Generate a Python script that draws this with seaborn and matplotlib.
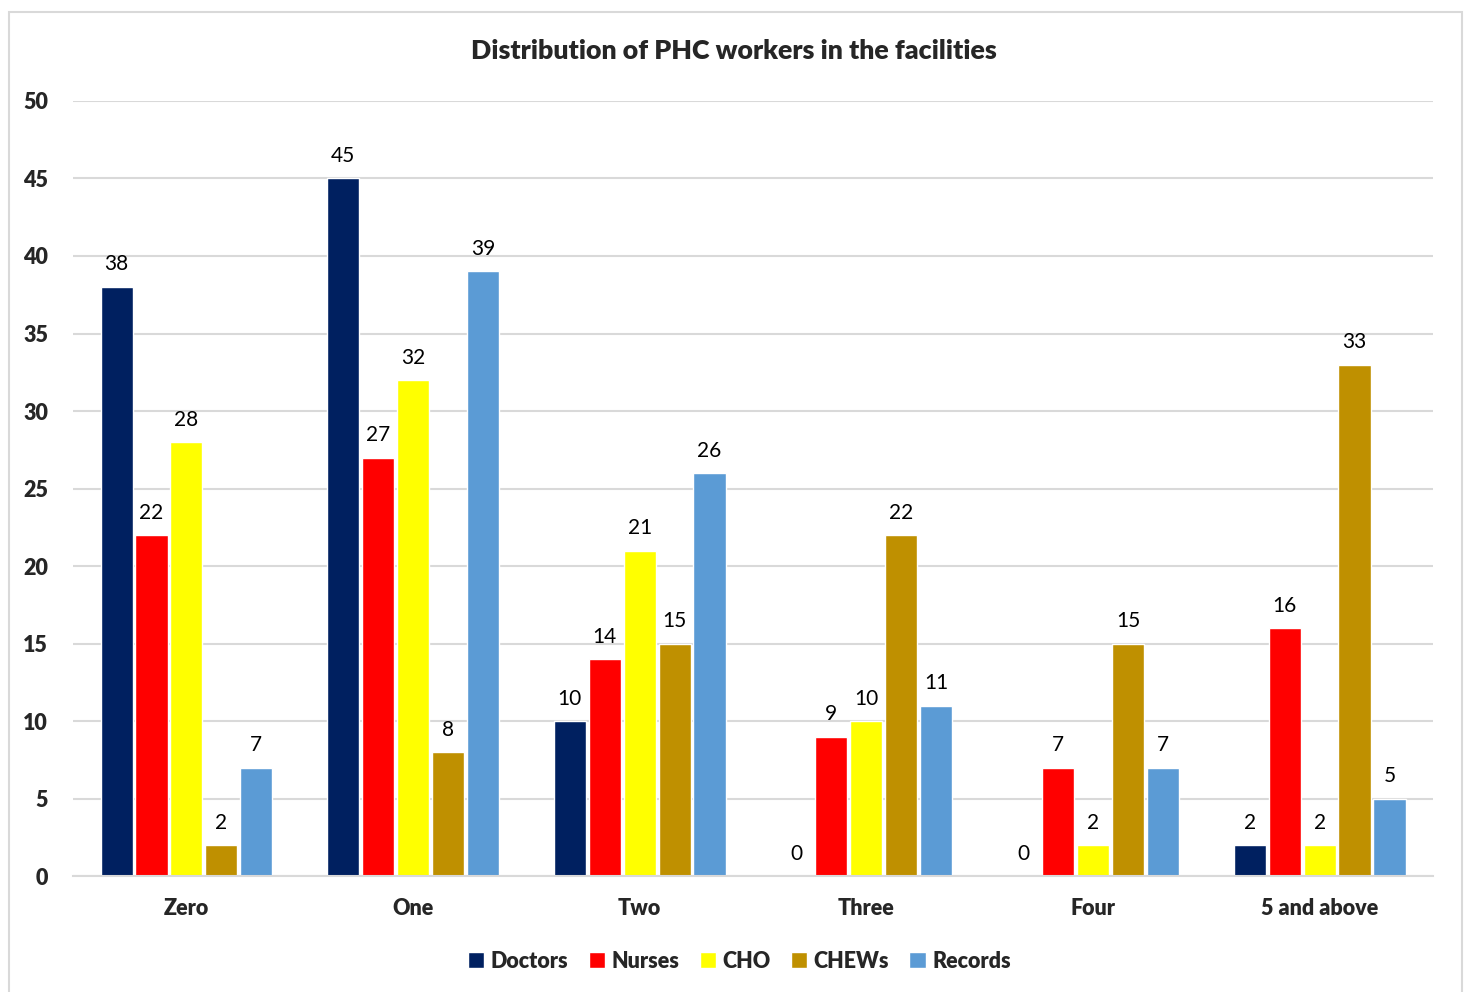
import matplotlib
matplotlib.use("Agg")
import matplotlib.pyplot as plt
import seaborn as sns
import pandas as pd
from matplotlib.patches import Rectangle

categories = ["Zero", "One", "Two", "Three", "Four", "5 and above"]
doctors = [38, 45, 10, 0, 0, 2]
nurses = [22, 27, 14, 9, 7, 16]
cho = [28, 32, 21, 10, 2, 2]
chews = [2, 8, 15, 22, 15, 33]
records = [7, 39, 26, 11, 7, 5]

series_names = ["Doctors", "Nurses", "CHO", "CHEWs", "Records"]
series_values = [doctors, nurses, cho, chews, records]
palette = ["#002060", "#FF0000", "#FFFF00", "#BF9000", "#5B9BD5"]

rows = []
for name, vals in zip(series_names, series_values):
    for cat, v in zip(categories, vals):
        rows.append({"category": cat, "worker": name, "count": v})
df = pd.DataFrame(rows)

sns.set_theme(style="white")
plt.rcParams["font.family"] = ["Lato", "DejaVu Sans"]

BOLD = "heavy"

fig = plt.figure(figsize=(14.67, 9.92), dpi=100)
ax = fig.add_axes([0.0498, 0.1169, 0.9270, 0.7813])

sns.barplot(data=df, x="category", y="count", hue="worker",
            order=categories, hue_order=series_names, palette=palette,
            width=0.77, gap=0.08, saturation=1, errorbar=None,
            legend=False, ax=ax)

for container in ax.containers:
    ax.bar_label(container, fmt="%d", padding=9, fontsize=15, color="#000000")

ax.set_ylim(0, 50)
ax.set_xlim(-0.5, 5.5)
ax.set_yticks(range(0, 51, 5))
ax.yaxis.grid(True, color="#D9D9D9", linewidth=1.5)
ax.set_axisbelow(True)
for side in ["top", "left", "right"]:
    ax.spines[side].set_visible(False)
ax.spines["bottom"].set_color("#D9D9D9")
ax.spines["bottom"].set_linewidth(1.5)
ax.tick_params(axis="both", length=0, labelsize=15.5)
ax.tick_params(axis="y", pad=18)
ax.tick_params(axis="x", pad=16)
for lbl in ax.get_xticklabels() + ax.get_yticklabels():
    lbl.set_fontweight(BOLD)
ax.set_xlabel("")
ax.set_ylabel("")

fig.text(0.5, 0.949, "Distribution of PHC workers in the facilities",
         ha="center", va="center", fontsize=19.3, fontweight=BOLD)

handles = [Rectangle((0, 0), 1, 1, facecolor=c) for c in palette]
fig.legend(handles, series_names, loc="center", bbox_to_anchor=(0.504, 0.031),
           ncol=5, frameon=False, handlelength=0.75, handleheight=0.75,
           handletextpad=0.3, columnspacing=0.95,
           prop={"weight": BOLD, "size": 15.5})

border = Rectangle((9 / 1467, -0.01), (1462 - 9) / 1467, 1 - 12 / 992 + 0.01,
                   transform=fig.transFigure, fill=False,
                   edgecolor="#D9D9D9", linewidth=1.5, clip_on=False)
fig.patches.append(border)

fig.savefig("out.png", dpi=100, facecolor="white")
